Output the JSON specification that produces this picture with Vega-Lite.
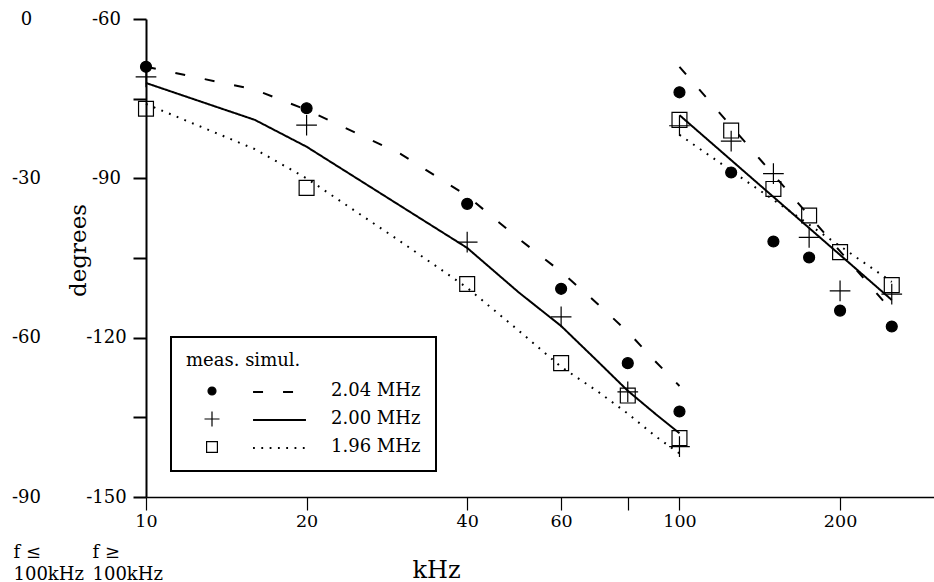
{
  "$schema": "https://vega.github.io/schema/vega-lite/v6.json",
  "autosize": {"type": "none"},
  "padding": {"left": 146, "top": 19, "right": 0, "bottom": 85},
  "width": 788,
  "height": 478,
  "config": {
    "font": "DejaVu Serif",
    "view": {"stroke": null},
    "axis": {"grid": false, "domainColor": "black", "tickColor": "black", "labelColor": "black", "titleColor": "black", "titleFontWeight": "normal"},
    "legend": {"strokeWidth": 2}
  },
  "datasets": {
    "measLow": [
      {"khz": 10, "deg": -9.0, "osc": "2.04 MHz"},
      {"khz": 20, "deg": -16.8, "osc": "2.04 MHz"},
      {"khz": 40, "deg": -34.8, "osc": "2.04 MHz"},
      {"khz": 60, "deg": -50.8, "osc": "2.04 MHz"},
      {"khz": 80, "deg": -64.8, "osc": "2.04 MHz"},
      {"khz": 100, "deg": -73.9, "osc": "2.04 MHz"},
      {"khz": 10, "deg": -10.9, "osc": "2.00 MHz"},
      {"khz": 20, "deg": -20.0, "osc": "2.00 MHz"},
      {"khz": 40, "deg": -42.0, "osc": "2.00 MHz"},
      {"khz": 60, "deg": -56.1, "osc": "2.00 MHz"},
      {"khz": 80, "deg": -70.2, "osc": "2.00 MHz"},
      {"khz": 100, "deg": -80.5, "osc": "2.00 MHz"},
      {"khz": 10, "deg": -16.9, "osc": "1.96 MHz"},
      {"khz": 20, "deg": -31.8, "osc": "1.96 MHz"},
      {"khz": 40, "deg": -49.9, "osc": "1.96 MHz"},
      {"khz": 60, "deg": -64.8, "osc": "1.96 MHz"},
      {"khz": 80, "deg": -70.9, "osc": "1.96 MHz"},
      {"khz": 100, "deg": -78.9, "osc": "1.96 MHz"}
    ],
    "measHigh": [
      {"khz": 100, "deg": -73.8, "osc": "2.04 MHz"},
      {"khz": 125, "deg": -88.9, "osc": "2.04 MHz"},
      {"khz": 150, "deg": -101.9, "osc": "2.04 MHz"},
      {"khz": 175, "deg": -104.9, "osc": "2.04 MHz"},
      {"khz": 200, "deg": -114.9, "osc": "2.04 MHz"},
      {"khz": 250, "deg": -117.9, "osc": "2.04 MHz"},
      {"khz": 100, "deg": -80.1, "osc": "2.00 MHz"},
      {"khz": 125, "deg": -83.0, "osc": "2.00 MHz"},
      {"khz": 150, "deg": -89.1, "osc": "2.00 MHz"},
      {"khz": 175, "deg": -101.1, "osc": "2.00 MHz"},
      {"khz": 200, "deg": -111.2, "osc": "2.00 MHz"},
      {"khz": 250, "deg": -111.8, "osc": "2.00 MHz"},
      {"khz": 100, "deg": -79.0, "osc": "1.96 MHz"},
      {"khz": 125, "deg": -81.0, "osc": "1.96 MHz"},
      {"khz": 150, "deg": -92.0, "osc": "1.96 MHz"},
      {"khz": 175, "deg": -97.0, "osc": "1.96 MHz"},
      {"khz": 200, "deg": -103.9, "osc": "1.96 MHz"},
      {"khz": 250, "deg": -110.1, "osc": "1.96 MHz"}
    ],
    "simLow": [
      {"khz": 10, "deg": -9.0, "sim": "2.04"},
      {"khz": 16, "deg": -13.3, "sim": "2.04"},
      {"khz": 20, "deg": -17.1, "sim": "2.04"},
      {"khz": 30, "deg": -25.4, "sim": "2.04"},
      {"khz": 40, "deg": -33.3, "sim": "2.04"},
      {"khz": 50, "deg": -41.4, "sim": "2.04"},
      {"khz": 60, "deg": -47.6, "sim": "2.04"},
      {"khz": 70, "deg": -53.5, "sim": "2.04"},
      {"khz": 80, "deg": -58.9, "sim": "2.04"},
      {"khz": 90, "deg": -64.4, "sim": "2.04"},
      {"khz": 100, "deg": -69.1, "sim": "2.04"},
      {"khz": 10, "deg": -12.05, "sim": "2.00"},
      {"khz": 16, "deg": -19.0, "sim": "2.00"},
      {"khz": 20, "deg": -24.05, "sim": "2.00"},
      {"khz": 30, "deg": -35.2, "sim": "2.00"},
      {"khz": 40, "deg": -43.1, "sim": "2.00"},
      {"khz": 50, "deg": -51.5, "sim": "2.00"},
      {"khz": 60, "deg": -57.8, "sim": "2.00"},
      {"khz": 70, "deg": -64.3, "sim": "2.00"},
      {"khz": 80, "deg": -70.0, "sim": "2.00"},
      {"khz": 90, "deg": -74.3, "sim": "2.00"},
      {"khz": 100, "deg": -78.0, "sim": "2.00"},
      {"khz": 10, "deg": -16.0, "sim": "1.96"},
      {"khz": 16, "deg": -24.5, "sim": "1.96"},
      {"khz": 20, "deg": -30.0, "sim": "1.96"},
      {"khz": 30, "deg": -41.9, "sim": "1.96"},
      {"khz": 40, "deg": -50.6, "sim": "1.96"},
      {"khz": 50, "deg": -58.7, "sim": "1.96"},
      {"khz": 60, "deg": -65.5, "sim": "1.96"},
      {"khz": 70, "deg": -70.0, "sim": "1.96"},
      {"khz": 80, "deg": -74.3, "sim": "1.96"},
      {"khz": 90, "deg": -78.5, "sim": "1.96"},
      {"khz": 100, "deg": -81.8, "sim": "1.96"}
    ],
    "simHigh": [
      {"khz": 100, "deg": -69.0, "sim": "2.04"},
      {"khz": 250, "deg": -114.9, "sim": "2.04"},
      {"khz": 100, "deg": -78.1, "sim": "2.00"},
      {"khz": 250, "deg": -112.9, "sim": "2.00"},
      {"khz": 100, "deg": -81.8, "sim": "1.96"},
      {"khz": 250, "deg": -109.5, "sim": "1.96"}
    ]
  },
  "resolve": {"scale": {"x": "independent", "y": "independent"}},
  "layer": [
    {
      "encoding": {
        "x": {
          "field": "khz", "type": "quantitative",
          "scale": {"type": "log", "domain": [10, 300], "nice": false},
          "axis": {
            "orient": "bottom", "values": [10, 20, 40, 60, 80, 100, 200], "format": "d",
            "labelExpr": "datum.value == 80 ? '' : datum.label",
            "tickSize": 13, "tickWidth": 1.2, "domainWidth": 1.3,
            "labelFontSize": 17.5, "labelPadding": 2, "labelFlush": false, "labelOverlap": false,
            "title": "kHz", "titleFontSize": 24, "titleX": 290, "titleY": 80,
            "titleAlign": "center", "titleBaseline": "alphabetic"
          }
        },
        "y": {
          "field": "deg", "type": "quantitative",
          "scale": {"domain": [-90, 0], "nice": false, "zero": false},
          "axis": {
            "orient": "left", "values": [0, -30, -60, -90],
            "labelExpr": "'' + datum.value",
            "domain": false, "ticks": false, "tickSize": 0,
            "labelAlign": "center", "labelBaseline": "middle", "labelPadding": 120, "labelFontSize": 18, "labelFlush": false,
            "title": ["f ≤", "100kHz"], "titleAngle": 0, "titleX": -133, "titleY": 538,
            "titleAlign": "left", "titleBaseline": "alphabetic", "titleFontSize": 18, "titleLineHeight": 22
          }
        }
      },
      "layer": [
        {
          "data": {"name": "simLow"},
          "mark": {"type": "line", "color": "black", "strokeWidth": 2},
          "encoding": {
            "strokeDash": {
              "field": "sim", "type": "nominal",
              "scale": {"domain": ["2.04", "2.00", "1.96"], "range": [[10, 20], [1, 0], [1.8, 6.5]]},
              "legend": {
                "orient": "none", "legendX": 123.5, "legendY": 363, "title": null, "padding": 0,
                "labelFontSize": 18, "labelColor": "transparent", "rowPadding": 9,
                "symbolType": "M-2.94,0H2.94", "symbolSize": 324, "symbolStrokeColor": "black",
                "symbolStrokeWidth": 2, "symbolFillColor": "transparent", "symbolOffset": 0
              }
            }
          }
        },
        {
          "data": {"name": "measLow"},
          "mark": {"type": "point", "filled": false, "strokeWidth": 1.2, "opacity": 1, "size": 428},
          "encoding": {
            "shape": {
              "field": "osc", "type": "nominal",
              "scale": {"domain": ["2.04 MHz", "2.00 MHz", "1.96 MHz"], "range": ["M-0.53,0A0.53,0.53 0 1,0 0.53,0A0.53,0.53 0 1,0 -0.53,0Z", "M-1,0H1M0,-1V1", "M-0.72,-0.72H0.72V0.72H-0.72Z"]},
              "legend": {
                "orient": "none", "legendX": 25, "legendY": 318, "title": "meas.  simul.",
                "titleFontSize": 18, "titleFontWeight": "normal", "titlePadding": 12, "padding": 15,
                "strokeColor": "black", "labelFontSize": 18, "labelOffset": 110, "symbolOffset": 17,
                "symbolSize": 225, "symbolStrokeWidth": 1.2, "rowPadding": 9,
                "labelExpr": "datum.label + '    '", "labelLimit": 400
              }
            },
            "fill": {
              "field": "osc", "type": "nominal",
              "scale": {"domain": ["2.04 MHz", "2.00 MHz", "1.96 MHz"], "range": ["black", "transparent", "transparent"]},
              "legend": {
                "orient": "none", "legendX": 25, "legendY": 318, "title": "meas.  simul.",
                "titleFontSize": 18, "titleFontWeight": "normal", "titlePadding": 12, "padding": 15,
                "strokeColor": "black", "labelFontSize": 18, "labelOffset": 110, "symbolOffset": 17,
                "symbolSize": 225, "symbolStrokeWidth": 1.2, "rowPadding": 9,
                "labelExpr": "datum.label + '    '", "labelLimit": 400
              }
            },
            "stroke": {
              "field": "osc", "type": "nominal",
              "scale": {"domain": ["2.04 MHz", "2.00 MHz", "1.96 MHz"], "range": ["black", "black", "black"]},
              "legend": {
                "orient": "none", "legendX": 25, "legendY": 318, "title": "meas.  simul.",
                "titleFontSize": 18, "titleFontWeight": "normal", "titlePadding": 12, "padding": 15,
                "strokeColor": "black", "labelFontSize": 18, "labelOffset": 110, "symbolOffset": 17,
                "symbolSize": 225, "symbolStrokeWidth": 1.2, "rowPadding": 9,
                "labelExpr": "datum.label + '    '", "labelLimit": 400
              }
            }
          }
        }
      ]
    },
    {
      "encoding": {
        "x": {
          "field": "khz", "type": "quantitative",
          "scale": {"type": "log", "domain": [10, 300], "nice": false},
          "axis": {
            "orient": "bottom", "domain": false, "ticks": false, "labels": false,
            "title": ["f ≥", "100kHz"], "titleAngle": 0, "titleX": -54, "titleY": 60,
            "titleAlign": "left", "titleBaseline": "alphabetic", "titleFontSize": 18, "titleLineHeight": 22
          }
        },
        "y": {
          "field": "deg", "type": "quantitative",
          "scale": {"domain": [-150, -60], "nice": false, "zero": false},
          "axis": {
            "orient": "left", "values": [-60, -75, -90, -105, -120, -135, -150],
            "labelExpr": "datum.value % 30 == 0 ? '' + datum.value : ''",
            "tickSize": 13, "tickWidth": 2, "domainWidth": 2,
            "labelAlign": "center", "labelBaseline": "middle", "labelPadding": 27, "labelFontSize": 18, "labelFlush": false,
            "title": "degrees", "titleFontSize": 23, "titleX": -68, "titleY": 231, "titleAngle": 270,
            "titleAlign": "center", "titleBaseline": "middle"
          }
        }
      },
      "layer": [
        {
          "data": {"name": "simHigh"},
          "mark": {"type": "line", "color": "black", "strokeWidth": 2},
          "encoding": {
            "strokeDash": {"field": "sim", "type": "nominal"}
          }
        },
        {
          "data": {"name": "measHigh"},
          "mark": {"type": "point", "filled": false, "strokeWidth": 1.2, "opacity": 1, "size": 428},
          "encoding": {
            "shape": {"field": "osc", "type": "nominal"},
            "fill": {"field": "osc", "type": "nominal"},
            "stroke": {"field": "osc", "type": "nominal"}
          }
        }
      ]
    },
    {
      "mark": {"type": "rule", "color": "black", "strokeWidth": 1.3, "strokeDash": [1.5, 11.8]},
      "encoding": {
        "x": {"datum": 100, "type": "quantitative", "scale": {"type": "log", "domain": [10, 300], "nice": false}, "axis": null}
      }
    }
  ]
}
